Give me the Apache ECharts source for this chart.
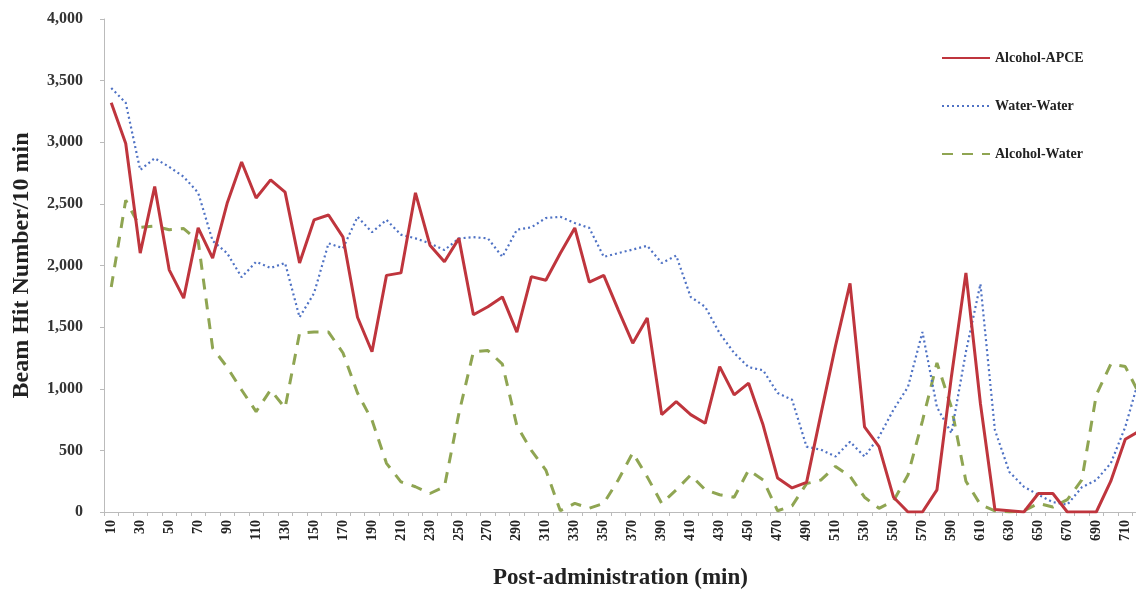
<!DOCTYPE html>
<html>
<head>
<meta charset="utf-8">
<script src="https://cdn.jsdelivr.net/npm/echarts@6/dist/echarts.min.js"></script>
<style>html,body{margin:0;padding:0;background:#fff;overflow:hidden}#c{width:1136px;height:591px}</style>
</head>
<body>
<div id="c"></div>
<script>
const categories = [10,20,30,40,50,60,70,80,90,100,110,120,130,140,150,160,170,180,190,200,210,220,230,240,250,260,270,280,290,300,310,320,330,340,350,360,370,380,390,400,410,420,430,440,450,460,470,480,490,500,510,520,530,540,550,560,570,580,590,600,610,620,630,640,650,660,670,680,690,700,710,720];
const alcoholAPCE = [3320,2990,2100,2640,1965,1735,2305,2060,2505,2840,2548,2695,2595,2020,2370,2410,2230,1580,1300,1920,1940,2590,2165,2030,2220,1600,1665,1745,1460,1910,1880,2100,2305,1865,1920,1640,1370,1575,790,895,790,720,1180,950,1045,705,275,195,240,800,1350,1855,690,530,120,0,0,180,1100,1940,880,20,10,0,150,150,0,0,0,250,590,660];
const waterWater = [3440,3320,2775,2870,2800,2720,2590,2200,2100,1905,2030,1980,2020,1580,1775,2180,2140,2395,2270,2370,2250,2220,2180,2125,2220,2230,2220,2070,2290,2310,2385,2395,2345,2305,2070,2100,2130,2160,2020,2080,1745,1665,1450,1290,1175,1150,965,910,530,505,450,570,450,610,830,1015,1460,850,640,1300,1850,665,325,205,140,80,60,200,260,395,690,1100];
const alcoholWater = [1825,2530,2310,2320,2290,2300,2200,1330,1175,990,815,990,845,1450,1460,1460,1290,965,745,395,245,205,150,205,800,1300,1310,1200,700,500,340,10,70,30,70,260,480,285,70,180,300,180,140,120,340,260,10,50,230,260,370,290,120,30,90,300,740,1210,850,250,60,10,0,10,70,40,100,260,950,1200,1180,950];
const seriesNames = ['Alcohol-APCE','Water-Water','Alcohol-Water'];

const font = 'Liberation Serif';
const chart = echarts.init(document.getElementById('c'), null, {width: 1136, height: 591});
chart.setOption({
  animation: false,
  backgroundColor: '#fff',
  grid: {left: 104, top: 19, width: 1043, height: 493, containLabel: false, outerBoundsMode: 'none'},
  legend: {
    orient: 'vertical', left: 936, top: 45, itemGap: 32, itemWidth: 48, itemHeight: 20,
    itemStyle: {opacity: 0},
    textStyle: {fontFamily: font, fontWeight: 'bold', fontSize: 14, color: '#222'},
    data: seriesNames
  },
  xAxis: {
    type: 'category', data: categories, boundaryGap: true,
    name: 'Post-administration (min)', nameLocation: 'middle', nameGap: 55,
    nameTextStyle: {fontFamily: font, fontWeight: 'bold', fontSize: 23, color: '#222', padding: [0, 10, 0, 0]},
    axisLine: {lineStyle: {color: '#bbb', width: 1}},
    axisTick: {show: true, alignWithLabel: false, interval: 0, length: 4, lineStyle: {color: '#bbb'}},
    axisLabel: {interval: 1, rotate: 90, fontFamily: font, fontWeight: 'bold', fontSize: 14, color: '#222', margin: 8}
  },
  yAxis: {
    type: 'value', min: 0, max: 4000, interval: 500,
    name: 'Beam Hit Number/10 min', nameLocation: 'middle', nameGap: 70, nameRotate: 90,
    nameTextStyle: {fontFamily: font, fontWeight: 'bold', fontSize: 24, color: '#222'},
    axisLine: {show: true, lineStyle: {color: '#bbb', width: 1}},
    axisTick: {show: true, length: 4, lineStyle: {color: '#bbb'}},
    splitLine: {show: false},
    axisLabel: {fontFamily: font, fontWeight: 'bold', fontSize: 16, color: '#333', margin: 21,
      formatter: v => v.toLocaleString('en-US')}
  },
  series: [
    {name: seriesNames[0], type: 'line', data: alcoholAPCE, symbol: 'none', z: 3,
      lineStyle: {color: '#bf353d', width: 3, type: 'solid'}, itemStyle: {color: '#bf353d'}},
    {name: seriesNames[1], type: 'line', data: waterWater, symbol: 'none', z: 2,
      lineStyle: {color: '#4f72c4', width: 2.2, type: [2, 3]}, itemStyle: {color: '#4f72c4'}},
    {name: seriesNames[2], type: 'line', data: alcoholWater, symbol: 'none', z: 1,
      lineStyle: {color: '#8fa552', width: 3, type: [11, 9]}, itemStyle: {color: '#8fa552'}}
  ]
});
</script>
</body>
</html>
